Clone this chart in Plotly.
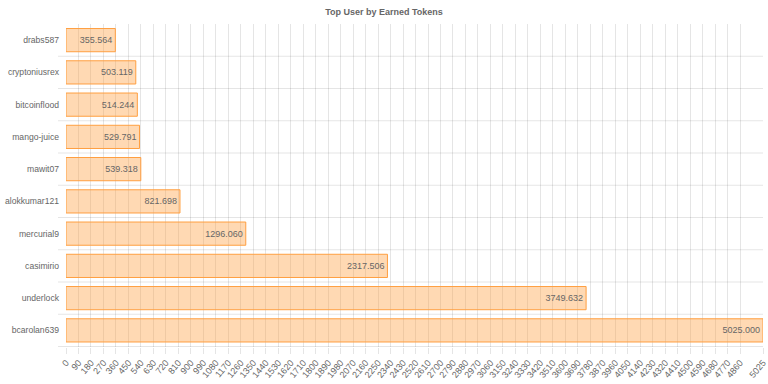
import plotly.graph_objects as go

users = ["drabs587", "cryptoniusrex", "bitcoinflood", "mango-juice", "mawit07",
         "alokkumar121", "mercurial9", "casimirio", "underlock", "bcarolan639"]
tokens = [355.564, 503.119, 514.244, 529.791, 539.318,
          821.698, 1296.060, 2317.506, 3749.632, 5025.000]

x_max = 5025
x_step = 90
tick_vals = list(range(0, 4861, x_step)) + [x_max]
tick_text = [str(v) for v in tick_vals]

grid = "rgba(0,0,0,0.1)"
font_fam = "Liberation Sans, Arial, Helvetica, sans-serif"

fig = go.Figure(go.Bar(
    y=users, x=tokens, orientation="h",
    marker=dict(color="rgba(255,159,64,0.4)",
                line=dict(color="rgb(255,159,64)", width=1)),
    text=tokens, texttemplate="%{x:.3f}",
    textposition="inside", insidetextanchor="end",
    textfont=dict(color="#666", size=9, family=font_fam),
    cliponaxis=False,
))

shapes = []
for i in range(1, len(users) + 1):
    shapes.append(dict(type="line", xref="paper", yref="y",
                       x0=-8/697, x1=1, y0=i - 0.5, y1=i - 0.5,
                       line=dict(color=grid, width=1), layer="below"))

fig.update_layout(
    width=768, height=384,
    margin=dict(l=66, r=5, t=24, b=37, autoexpand=False),
    paper_bgcolor="white", plot_bgcolor="white",
    showlegend=False,
    bargap=0.28,
    font=dict(family=font_fam, color="#666", size=9),
    title=dict(text="<b>Top User by Earned Tokens</b>", x=0.5, xref="container",
               y=1 - 12/384, yref="container", yanchor="middle",
               font=dict(size=9, color="#666", family=font_fam)),
    xaxis=dict(range=[0, x_max], tickmode="array", tickvals=tick_vals, ticktext=tick_text,
               tickangle=-50, showgrid=True, gridcolor=grid, gridwidth=1,
               zeroline=False, showline=False, ticks="outside", ticklen=6,
               tickcolor=grid, tickfont=dict(size=9, color="#666"), automargin=False),
    yaxis=dict(autorange="reversed", showgrid=False, zeroline=False, showline=False,
               ticks="", ticklabelstandoff=6, tickfont=dict(size=8.6, color="#666"),
               automargin=False),
    shapes=shapes,
)

fig.write_html("out.html", config={"displayModeBar": False},
               post_script="document.body.style.margin='0';document.body.style.overflow='hidden';")
